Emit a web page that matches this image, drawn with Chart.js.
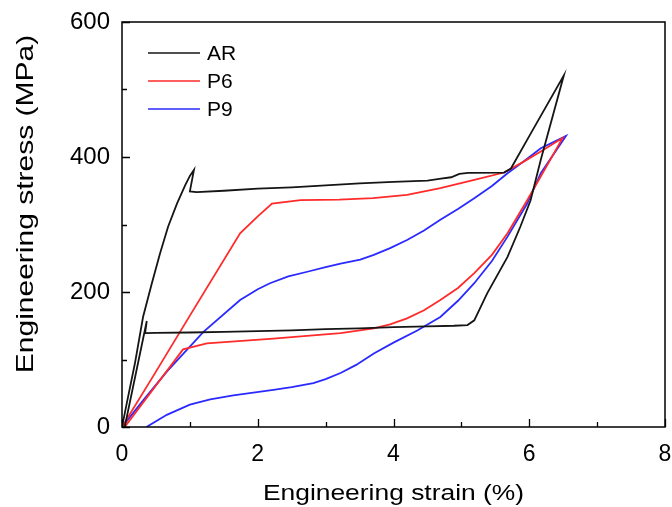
<!DOCTYPE html>
<html>
<head>
<meta charset="utf-8">
<script src="https://cdn.jsdelivr.net/npm/chart.js@4"></script>
<style>
  html, body { margin: 0; padding: 0; background: #fff; }
</style>
</head>
<body>
<canvas id="chart" width="672" height="507"></canvas>
<script>
// --- Datos ---
const seriesLabels = ['AR', 'P6', 'P9'];

const arStrain = [0, 0.07, 0.19, 0.31, 0.44, 0.56, 0.68, 0.81, 0.93, 1.0, 1.06, 1.0, 1.1, 1.5, 2.0, 2.5, 3.0, 3.5, 4.0, 4.5, 4.7, 4.85, 4.97, 5.1, 5.63, 5.73, 6.0, 6.51,
  6.17, 6.02, 5.87, 5.68, 5.38, 5.19, 5.09, 4.89, 4.5, 4.0, 3.5, 3.0, 2.5, 2.0, 1.5, 1.0, 0.5, 0.34, 0.365, 0.04];
const arStress = [0, 35, 94, 163, 213, 257, 297, 331, 358, 372, 381, 349, 348, 350, 353, 355, 358, 361, 363, 365, 368, 370, 375, 376.5, 377, 383, 431, 521,
  396, 336, 297, 252, 198, 158, 151, 150, 149, 148, 146, 145, 143, 142, 141, 140, 139.5, 139, 157, 0];

const p6Strain = [0, 0.5, 1.0, 1.74, 2.0, 2.21, 2.63, 3.2, 3.7, 4.2, 4.69, 5.19, 5.63, 5.9, 6.17, 6.49,
  5.97, 5.68, 5.45, 5.19, 4.95, 4.69, 4.45, 4.2, 3.95, 3.71, 3.22, 2.23, 1.25, 0.9, 0.04];
const p6Stress = [0, 82, 165, 287, 312, 331, 336, 337, 339, 344, 354, 366, 377, 392, 408, 428,
  336, 287, 255, 228, 206, 188, 173, 161, 152, 146, 139, 131, 124, 115, 0];

const p9Strain = [0, 0.3, 0.66, 1.2, 1.74, 2.0, 2.18, 2.45, 2.73, 3.0, 3.22, 3.51, 3.71, 3.95, 4.2, 4.45, 4.69, 4.95, 5.19, 5.45, 5.68, 5.95, 6.17, 6.54,
  6.17, 5.97, 5.68, 5.45, 5.19, 4.95, 4.69, 4.35, 4.0, 3.71, 3.45, 3.22, 3.0, 2.82, 2.5, 2.23, 1.64, 1.3, 1.0, 0.66, 0.36];
const p9Stress = [0, 38, 82, 141, 188, 204, 213, 223, 230, 237, 242, 248, 255, 265, 277, 291, 307, 323, 339, 357, 376, 396, 413, 431,
  376, 331, 282, 246, 213, 187, 163, 143, 125, 109, 92, 80, 71, 65, 59, 55, 47, 41, 33, 18, 0];

const xTicks = [0, 2, 4, 6, 8];
const yTicks = [0, 200, 400, 600];

const lineColors = ['#151515', '#ff2a2a', '#2a2aff'];
const FONT = 'Liberation Sans, Arial, sans-serif';

const toPoints = (xs, ys) => xs.map((x, i) => ({ x: x, y: ys[i] }));

// texto estirado en la dirección de escritura (la figura original está deformada)
function stretchedText(ctx, text, x, y, angle, size, stretch) {
  ctx.save();
  ctx.translate(x, y);
  ctx.rotate(angle);
  ctx.scale(stretch, 1);
  ctx.font = size + 'px ' + FONT;
  ctx.textAlign = 'center';
  ctx.textBaseline = 'middle';
  ctx.fillStyle = '#000';
  ctx.fillText(text, 0, 0);
  ctx.restore();
}

// --- Marco, ticks interiores, leyenda y títulos ---
const framePlugin = {
  id: 'framePlugin',
  afterDraw(chart) {
    const { ctx, chartArea: a, scales } = chart;
    ctx.save();
    ctx.strokeStyle = '#000';
    ctx.lineWidth = 1.5;
    ctx.strokeRect(a.left, a.top, a.right - a.left, a.bottom - a.top);

    ctx.lineWidth = 1.3;
    ctx.beginPath();
    scales.x.ticks.forEach(t => {
      const px = Math.round(scales.x.getPixelForValue(t.value)) + 0.5;
      const len = xTicks.includes(t.value) ? 8 : 5;
      ctx.moveTo(px, a.bottom);
      ctx.lineTo(px, a.bottom - len);
    });
    scales.y.ticks.forEach(t => {
      const py = Math.round(scales.y.getPixelForValue(t.value)) + 0.5;
      const len = yTicks.includes(t.value) ? 8 : 5;
      ctx.moveTo(a.left, py);
      ctx.lineTo(a.left + len, py);
    });
    ctx.stroke();

    // leyenda
    ctx.font = '21px ' + FONT;
    ctx.textBaseline = 'middle';
    ctx.fillStyle = '#000';
    chart.data.datasets.forEach((ds, i) => {
      const y = 53 + i * 28;
      ctx.strokeStyle = ds.borderColor;
      ctx.lineWidth = 1.6;
      ctx.beginPath();
      ctx.moveTo(148, y);
      ctx.lineTo(200, y);
      ctx.stroke();
      ctx.fillText(ds.label, 207, y + 1);
    });
    ctx.restore();

    // títulos de ejes
    stretchedText(ctx, 'Engineering strain (%)', (a.left + a.right) / 2, 494, 0, 22, 1.2);
    stretchedText(ctx, 'Engineering stress (MPa)', 26, 204, -Math.PI / 2, 24, 1.25);
  }
};

const datasets = [
  [arStrain, arStress],
  [p6Strain, p6Stress],
  [p9Strain, p9Stress]
].map(([xs, ys], i) => ({
  label: seriesLabels[i],
  data: toPoints(xs, ys),
  borderColor: lineColors[i],
  borderWidth: 1.8,
  showLine: true,
  pointRadius: 0,
  tension: 0
}));

new Chart(document.getElementById('chart'), {
  type: 'scatter',
  data: { datasets: datasets },
  options: {
    responsive: false,
    animation: false,
    layout: { padding: { top: 22, right: 7, left: 0, bottom: 0 } },
    plugins: {
      legend: { display: false },
      tooltip: { enabled: false }
    },
    scales: {
      x: {
        type: 'linear',
        min: 0, max: 8,
        afterFit: s => { s.height = 80; s.paddingLeft = 0; s.paddingRight = 0; },
        grid: { display: false, drawTicks: false },
        border: { display: false },
        ticks: {
          stepSize: 1,
          color: '#000',
          padding: 14,
          maxRotation: 0,
          font: { family: FONT, size: 23 },
          callback: v => (xTicks.includes(v) ? String(v) : '')
        }
      },
      y: {
        type: 'linear',
        min: 0, max: 600,
        afterFit: s => { s.width = 122; s.paddingTop = 0; s.paddingBottom = 0; },
        grid: { display: false, drawTicks: false },
        border: { display: false },
        ticks: {
          stepSize: 100,
          color: '#000',
          padding: 12,
          font: { family: FONT, size: 24 },
          callback: v => (yTicks.includes(v) ? String(v) : '')
        }
      }
    }
  },
  plugins: [framePlugin]
});
</script>
</body>
</html>
